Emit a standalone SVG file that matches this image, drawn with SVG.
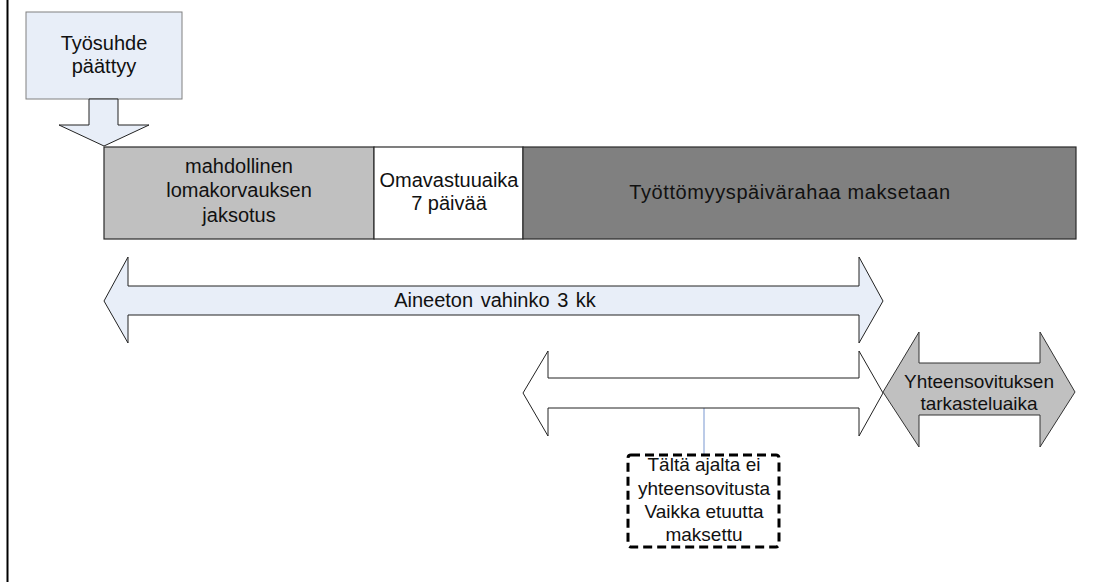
<svg xmlns="http://www.w3.org/2000/svg" width="1096" height="582" viewBox="0 0 1096 582">
<style>
text{font-family:"Liberation Sans",Arial,sans-serif;fill:#111;text-anchor:middle}
.t20{font-size:20px}
.t19{font-size:19px}
.blue{fill:#e8eef8;stroke:#222;stroke-width:1}
.seg{stroke:#2a2a2a;stroke-width:1.2}
</style>
<rect width="1096" height="582" fill="#fff"/>
<line x1="7.5" y1="0" x2="7.5" y2="582" stroke="#000" stroke-width="2"/>

<g id="tyosuhde">
<rect x="26" y="12" width="156" height="87" fill="#e8eef8" stroke="#808080" stroke-width="1"/>
<text class="t20" x="104" y="50">Työsuhde</text>
<text class="t20" x="104" y="73">päättyy</text>
</g>

<g id="connectors">
<polygon class="blue" points="89,99 118,99 118,125 149,125 104,146 59,125 89,125"/>
<line x1="704" y1="408" x2="704" y2="455" stroke="#8fa8d8" stroke-width="1.2"/>
</g>

<g id="bar">
<rect class="seg" x="104" y="147" width="270" height="92" fill="#c0c0c0"/>
<rect class="seg" x="374" y="147" width="149" height="92" fill="#ffffff"/>
<rect class="seg" x="523" y="147" width="553" height="92" fill="#808080"/>
</g>

<g id="lomakorvaus">
<text class="t20" x="239" y="173">mahdollinen</text>
<text class="t20" x="239" y="197">lomakorvauksen</text>
<text class="t20" x="239" y="222">jaksotus</text>
</g>

<g id="omavastuu">
<text class="t20" x="449" y="187">Omavastuuaika</text>
<text class="t20" x="449" y="210">7 päivää</text>
</g>

<g id="paivaraha">
<text x="790" y="199" style="font-size:20px;letter-spacing:0.6px">Työttömyyspäivärahaa maksetaan</text>
</g>

<g id="aineeton">
<polygon class="blue" points="104,301 128,257 128,286 859,286 859,257 883,301 859,343 859,315 128,315 128,343"/>
<text class="t20" x="495" y="307" style="word-spacing:2px">Aineeton vahinko 3 kk</text>
</g>

<g id="valiaika">
<polygon points="523,393 548,351 548,378 859,378 859,351 883,393 859,436 859,408 548,408 548,436" fill="#fff" stroke="#222" stroke-width="1"/>
</g>

<g id="yhteensovitus">
<polygon points="883,392 919,332 919,363 1040,363 1040,332 1075,392 1040,447 1040,415 919,415 919,447" fill="#c0c0c0" stroke="#333" stroke-width="1"/>
<text class="t19" x="979" y="388">Yhteensovituksen</text>
<text class="t19" x="979" y="410">tarkasteluaika</text>
</g>

<g id="huomautus">
<rect x="628" y="455" width="151" height="92" rx="3" fill="#fff" stroke="#000" stroke-width="3" stroke-dasharray="9 5"/>
<text class="t19" x="704" y="471">Tältä ajalta ei</text>
<text class="t19" x="704" y="495">yhteensovitusta</text>
<text class="t19" x="704" y="518">Vaikka etuutta</text>
<text class="t19" x="704" y="541">maksettu</text>
</g>
</svg>
